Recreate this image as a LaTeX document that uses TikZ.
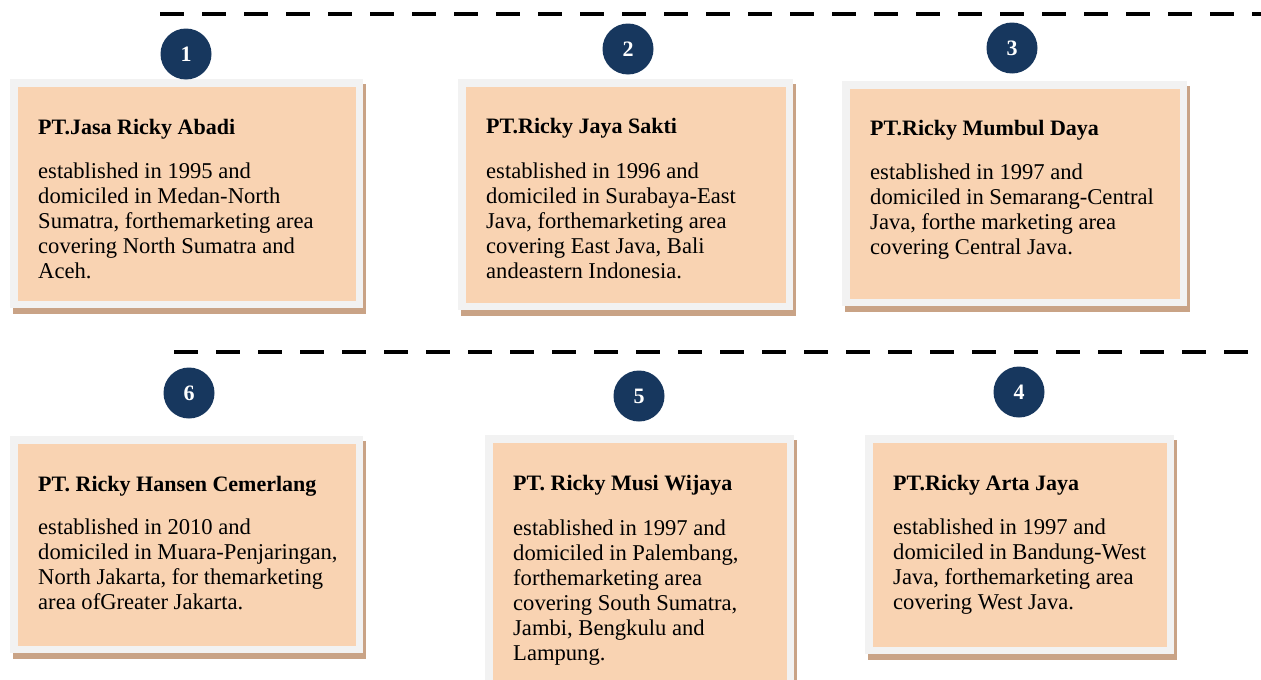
\documentclass[tikz,border=0pt]{standalone}
\usepackage{fontspec}
\setmainfont{Liberation Serif}
\definecolor{peach}{HTML}{F9D3B2}
\definecolor{framegray}{HTML}{F2F2F2}
\definecolor{shadowtan}{HTML}{C9A386}
\definecolor{navy}{HTML}{17375E}
\begin{document}
\begin{tikzpicture}[x=1pt,y=-1pt,
  numdot/.style={circle,fill=navy,minimum size=51pt,inner sep=0pt,text=white,font=\fontsize{22}{22}\selectfont\bfseries},
  ttl/.style={anchor=base west,inner sep=0pt,font=\fontsize{22}{25}\selectfont\bfseries},
  bodytext/.style={anchor=base west,inner sep=0pt,font=\fontsize{22.6}{25}\selectfont},
  dashline/.style={line width=4.5pt,dash pattern=on 24pt off 18pt}]
\useasboundingbox (0,0) rectangle (1261,680);
\fill[white] (0,0) rectangle (1261,680);
% dashed lines
\draw[dashline] (160,14) -- (1261,14);
\draw[dashline] (174,352) -- (1261,352);
\newcommand{\cardbox}[5]{% name, x1,y1,x2,y2 (outer)
  \fill[shadowtan] (#2+3,#3+5) rectangle (#4+3,#5+6);
  \fill[framegray] (#2,#3) rectangle (#4,#5);
  \node[fill=peach,inner sep=0pt,anchor=north west,minimum width=#4-#2-15,minimum height=#5-#3-15] (#1) at (#2+8,#3+8) {};
}
\newcommand{\bodylines}[1]{\parbox[t]{330pt}{\raggedright #1}}
\cardbox{b1}{10}{79}{363}{308}
\cardbox{b2}{458}{79}{793}{310}
\cardbox{b3}{842}{81}{1187}{306}
\cardbox{b6}{10}{436}{363}{653}
\cardbox{b5}{485}{435}{794}{695}
\cardbox{b4}{865}{435}{1174}{654}
% circles
\node[numdot] (c1) at (186,54) {1};
\node[numdot] (c2) at (628,49) {2};
\node[numdot] (c3) at (1012,48) {3};
\node[numdot] (c6) at (189,393) {6};
\node[numdot] (c5) at (639,396) {5};
\node[numdot] (c4) at (1019,392) {4};
% texts
\node[ttl] (t1) at (38,134) {PT.Jasa Ricky Abadi};
\node[bodytext] (d1) at (38,178) {\bodylines{established in 1995 and\\domiciled in Medan-North\\Sumatra, forthemarketing area\\covering North Sumatra and\\Aceh.}};
\node[ttl] (t2) at (486,133) {PT.Ricky Jaya Sakti};
\node[bodytext] (d2) at (486,178) {\bodylines{established in 1996 and\\domiciled in Surabaya-East\\Java, forthemarketing area\\covering East Java, Bali\\andeastern Indonesia.}};
\node[ttl] (t3) at (870,135) {PT.Ricky Mumbul Daya};
\node[bodytext] (d3) at (870,179) {\bodylines{established in 1997 and\\domiciled in Semarang-Central\\Java, forthe marketing area\\covering Central Java.}};
\node[ttl] (t6) at (38,491) {PT. Ricky Hansen Cemerlang};
\node[bodytext] (d6) at (38,534) {\bodylines{established in 2010 and\\domiciled in Muara-Penjaringan,\\North Jakarta, for themarketing\\area ofGreater Jakarta.}};
\node[ttl] (t5) at (513,490) {PT. Ricky Musi Wijaya};
\node[bodytext] (d5) at (513,535) {\bodylines{established in 1997 and\\domiciled in Palembang,\\forthemarketing area\\covering South Sumatra,\\Jambi, Bengkulu and\\Lampung.}};
\node[ttl] (t4) at (893,490) {PT.Ricky Arta Jaya};
\node[bodytext] (d4) at (893,534) {\bodylines{established in 1997 and\\domiciled in Bandung-West\\Java, forthemarketing area\\covering West Java.}};
\end{tikzpicture}
\end{document}
